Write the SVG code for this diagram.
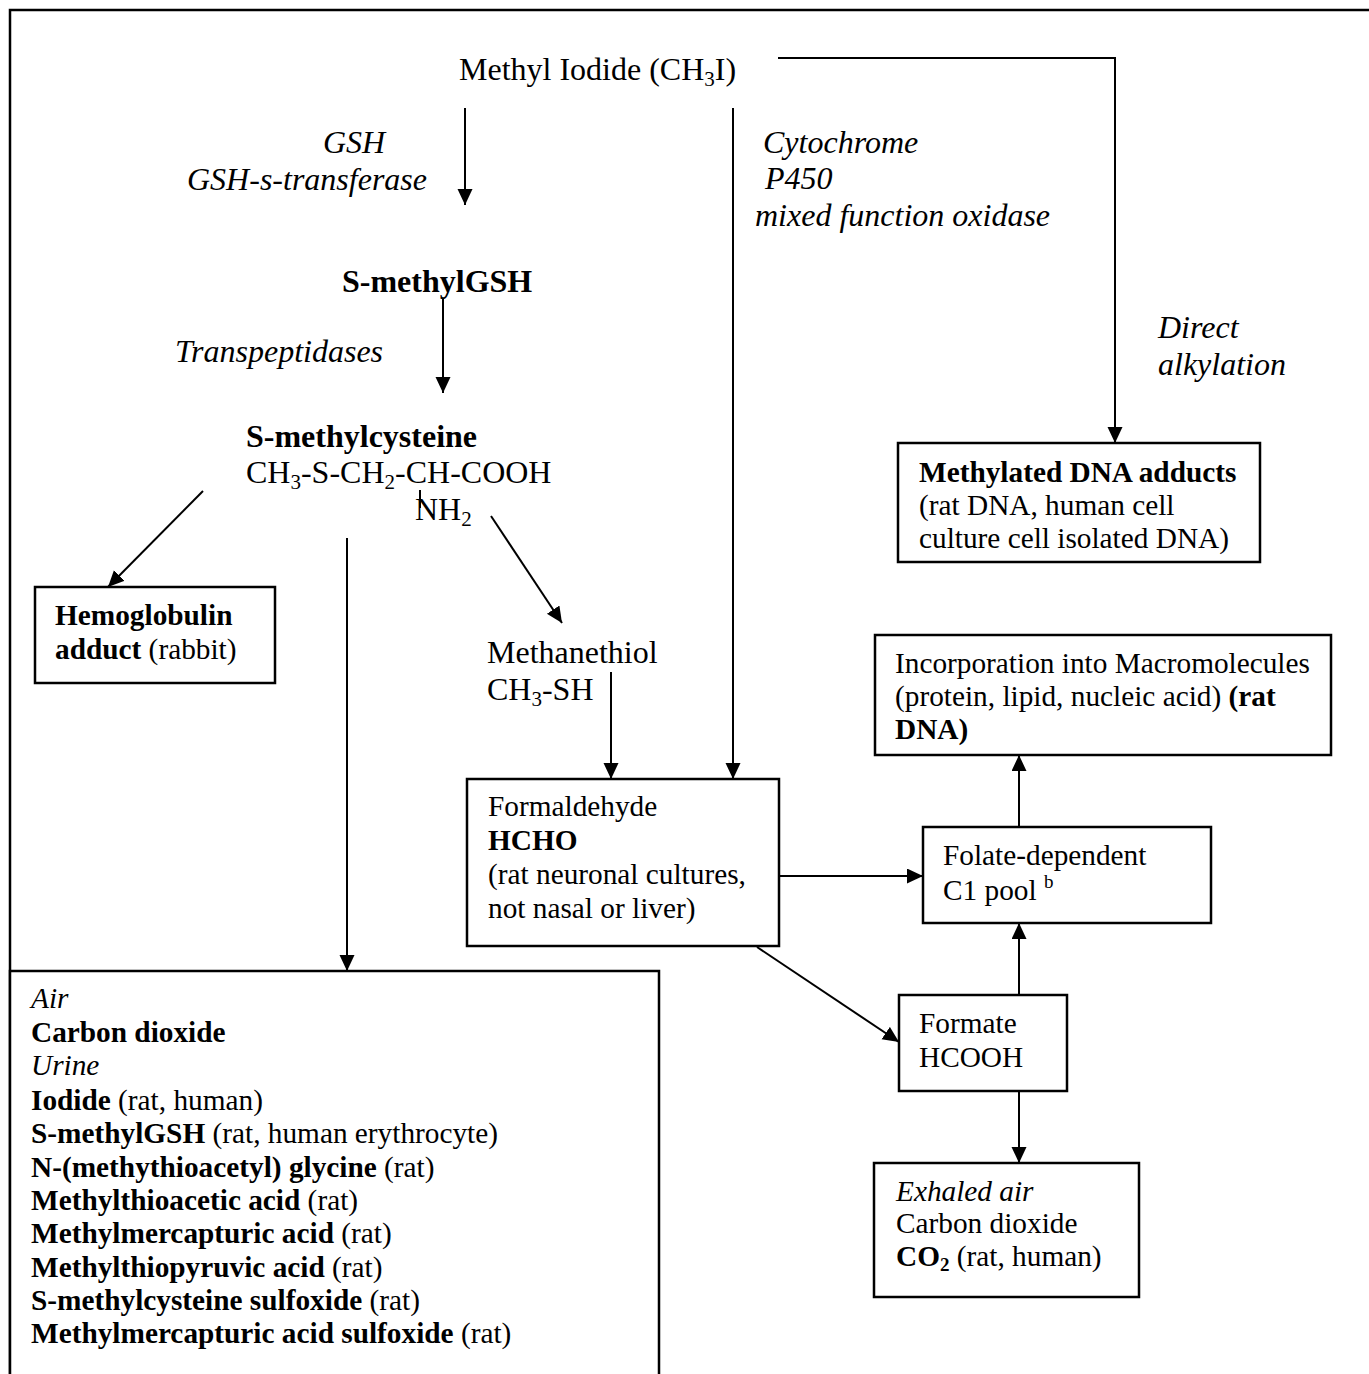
<svg xmlns="http://www.w3.org/2000/svg" width="1369" height="1374" viewBox="0 0 1369 1374">
<style>
text{font-family:"Liberation Serif","Times New Roman",serif;fill:#000}
.t{font-size:32px}
.b{font-size:29.3px}
.i{font-style:italic}
.bd{font-weight:bold}
.box{fill:#fff;stroke:#000;stroke-width:2.5}
.ln{fill:none;stroke:#000;stroke-width:2}
.ar{fill:none;stroke:#000;stroke-width:2;marker-end:url(#ah)}
</style>
<defs>
<marker id="ah" markerUnits="userSpaceOnUse" markerWidth="17" markerHeight="16" refX="16" refY="7.5" orient="auto">
<path d="M0,0 L16,7.5 L0,15 z" fill="#000"/>
</marker>
</defs>
<rect width="1369" height="1374" fill="#fff"/>
<g id="frame">
<polyline points="10,1374 10,10 1369,10" fill="none" stroke="#000" stroke-width="2.5"/>
</g>
<g id="connectors">
<polyline class="ar" points="778,58 1115,58 1115,443"/>
<line class="ar" x1="465" y1="108" x2="465" y2="205"/>
<line class="ar" x1="733" y1="108" x2="733" y2="779"/>
<line class="ar" x1="443" y1="299" x2="443" y2="393"/>
<line class="ar" x1="203" y1="491" x2="108" y2="587"/>
<line class="ar" x1="491" y1="516" x2="562" y2="623"/>
<line class="ar" x1="347" y1="538" x2="347" y2="971"/>
<line class="ar" x1="611" y1="672" x2="611" y2="779"/>
<line class="ar" x1="779" y1="876" x2="923" y2="876"/>
<line class="ar" x1="1019" y1="827" x2="1019" y2="755"/>
<line class="ar" x1="1019" y1="995" x2="1019" y2="923"/>
<line class="ar" x1="1019" y1="1091" x2="1019" y2="1163"/>
<line class="ar" x1="757" y1="947" x2="899" y2="1042"/>
<line class="ln" x1="420" y1="490" x2="420" y2="508"/>
</g>
<g id="methyl-iodide">
<text class="t" x="459" y="80">Methyl Iodide (CH<tspan font-size="21" dy="6">3</tspan><tspan dy="-6">I)</tspan></text>
</g>
<g id="label-gsh">
<text class="t i" x="323" y="153">GSH</text>
<text class="t i" x="187" y="190">GSH-s-transferase</text>
</g>
<g id="label-cyp">
<text class="t i" x="763" y="153">Cytochrome</text>
<text class="t i" x="765" y="189">P450</text>
<text class="t i" x="755" y="226">mixed function oxidase</text>
</g>
<g id="s-methylgsh">
<text class="t bd" x="342" y="292">S-methylGSH</text>
</g>
<g id="label-transpeptidases">
<text class="t i" x="175" y="362">Transpeptidases</text>
</g>
<g id="label-direct">
<text class="t i" x="1158" y="338">Direct</text>
<text class="t i" x="1158" y="375">alkylation</text>
</g>
<g id="s-methylcysteine">
<text class="t bd" x="246" y="447">S-methylcysteine</text>
<text class="t" x="246" y="483">CH<tspan font-size="21" dy="6">3</tspan><tspan dy="-6">-S-CH</tspan><tspan font-size="21" dy="6">2</tspan><tspan dy="-6">-CH-COOH</tspan></text>
<text class="t" x="415" y="520">NH<tspan font-size="21" dy="6">2</tspan></text>
</g>
<g id="methylated-dna">
<rect class="box" x="898" y="443" width="362" height="119"/>
<text class="b bd" x="919" y="482">Methylated DNA adducts</text>
<text class="b" x="919" y="515">(rat DNA, human cell</text>
<text class="b" x="919" y="548">culture cell isolated DNA)</text>
</g>
<g id="hemoglobin">
<rect class="box" x="35" y="587" width="240" height="96"/>
<text class="b" x="55" y="625"><tspan class="bd">Hemoglobulin</tspan></text>
<text class="b" x="55" y="659"><tspan class="bd">adduct</tspan> (rabbit)</text>
</g>
<g id="methanethiol">
<text class="t" x="487" y="663">Methanethiol</text>
<text class="t" x="487" y="700">CH<tspan font-size="21" dy="6">3</tspan><tspan dy="-6">-SH</tspan></text>
</g>
<g id="incorporation">
<rect class="box" x="875" y="635" width="456" height="120"/>
<text class="b" x="895" y="673">Incorporation into Macromolecules</text>
<text class="b" x="895" y="706">(protein, lipid, nucleic acid) <tspan class="bd">(rat</tspan></text>
<text class="b bd" x="895" y="739">DNA)</text>
</g>
<g id="formaldehyde">
<rect class="box" x="467" y="779" width="312" height="167"/>
<text class="b" x="488" y="816">Formaldehyde</text>
<text class="b bd" x="488" y="850">HCHO</text>
<text class="b" x="488" y="884">(rat neuronal cultures,</text>
<text class="b" x="488" y="918">not nasal or liver)</text>
</g>
<g id="folate">
<rect class="box" x="923" y="827" width="288" height="96"/>
<text class="b" x="943" y="865">Folate-dependent</text>
<text class="b" x="943" y="900">C1 pool <tspan font-size="19" dy="-12">b</tspan></text>
</g>
<g id="formate">
<rect class="box" x="899" y="995" width="168" height="96"/>
<text class="b" x="919" y="1033">Formate</text>
<text class="b" x="919" y="1067">HCOOH</text>
</g>
<g id="exhaled">
<rect class="box" x="874" y="1163" width="265" height="134"/>
<text class="b i" x="896" y="1201">Exhaled air</text>
<text class="b" x="896" y="1233">Carbon dioxide</text>
<text class="b" x="896" y="1266"><tspan class="bd">CO</tspan><tspan class="bd" font-size="19" dy="5">2</tspan><tspan dy="-5"> (rat, human)</tspan></text>
</g>
<g id="excretion">
<polyline points="10,1374 10,971 659,971 659,1374" fill="#fff" stroke="#000" stroke-width="2.5"/>
<text class="b i" x="31" y="1008">Air</text>
<text class="b bd" x="31" y="1042">Carbon dioxide</text>
<text class="b i" x="31" y="1075">Urine</text>
<text class="b" x="31" y="1110"><tspan class="bd">Iodide</tspan> (rat, human)</text>
<text class="b" x="31" y="1143"><tspan class="bd">S-methylGSH</tspan> (rat, human erythrocyte)</text>
<text class="b" x="31" y="1177"><tspan class="bd">N-(methythioacetyl) glycine</tspan> (rat)</text>
<text class="b" x="31" y="1210"><tspan class="bd">Methylthioacetic acid</tspan> (rat)</text>
<text class="b" x="31" y="1243"><tspan class="bd">Methylmercapturic acid</tspan> (rat)</text>
<text class="b" x="31" y="1277"><tspan class="bd">Methylthiopyruvic acid</tspan> (rat)</text>
<text class="b" x="31" y="1310"><tspan class="bd">S-methylcysteine sulfoxide</tspan> (rat)</text>
<text class="b" x="31" y="1343"><tspan class="bd">Methylmercapturic acid sulfoxide</tspan> (rat)</text>
</g>
</svg>
